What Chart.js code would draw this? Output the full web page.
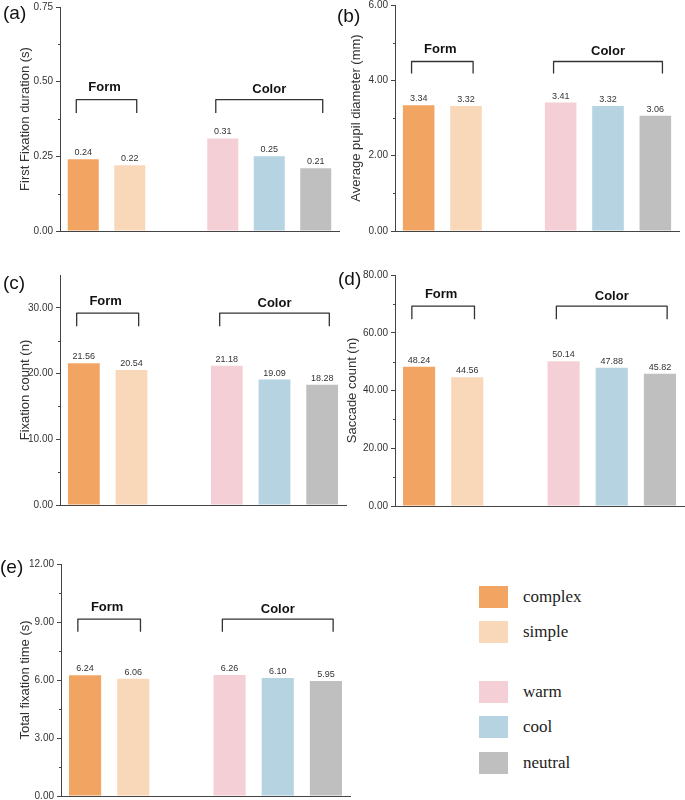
<!DOCTYPE html>
<html>
<head>
<meta charset="utf-8">
<script src="https://cdn.jsdelivr.net/npm/chart.js@4.4.1/dist/chart.umd.min.js"></script>
<style>
  body { margin: 0; background: #fff; }
  #wrap { position: relative; width: 685px; height: 800px; overflow: hidden; }
  #wrap canvas { position: absolute; }
  .key { position: absolute; left: 479px; height: 22px; font-family: "Liberation Serif", "Times New Roman", serif; font-size: 17px; color: #222; }
  .key span { position: absolute; left: 0; top: 0; width: 29px; height: 22px; }
  .key b { position: absolute; left: 44px; top: 0; line-height: 22px; font-weight: normal; white-space: nowrap; }
</style>
</head>
<body>
<div id="wrap">
  <canvas id="chartA" width="340" height="250" style="left:0;top:0"></canvas>
  <canvas id="chartB" width="350" height="250" style="left:335px;top:0"></canvas>
  <canvas id="chartC" width="350" height="255" style="left:0;top:260px"></canvas>
  <canvas id="chartD" width="350" height="255" style="left:335px;top:260px"></canvas>
  <canvas id="chartE" width="355" height="260" style="left:0;top:540px"></canvas>
  <div id="legend"></div>
</div>
<script>
// DATA
const categories = ["complex", "simple", "", "warm", "cool", "neutral"];
const barColors = ["#F2A463", "#F9D8B9", "rgba(0,0,0,0)", "#F4D0D6", "#B5D3E0", "#BFBFBF"];

const firstFixation = [0.24, 0.22, null, 0.31, 0.25, 0.21];
const pupilDiameter = [3.34, 3.32, null, 3.41, 3.32, 3.06];
const fixationCount = [21.56, 20.54, null, 21.18, 19.09, 18.28];
const saccadeCount = [48.24, 44.56, null, 50.14, 47.88, 45.82];
const totalFixation = [6.24, 6.06, null, 6.26, 6.10, 5.95];

const ticksA = [0, 0.25, 0.5, 0.75];
const ticksB = [0, 2, 4, 6];
const ticksC = [0, 10, 20, 30];
const ticksD = [0, 20, 40, 60, 80];
const ticksE = [0, 3, 6, 9, 12];

const groups = [
  { label: "Form", from: 0, to: 1 },
  { label: "Color", from: 3, to: 5 },
];

const legendItems = [
  { label: "complex", color: "#F2A463", top: 586 },
  { label: "simple", color: "#F9D8B9", top: 621 },
  { label: "warm", color: "#F4D0D6", top: 681 },
  { label: "cool", color: "#B5D3E0", top: 716 },
  { label: "neutral", color: "#BFBFBF", top: 752 },
];

const axisColor = "#444";
const textColor = "#333";
const sans = "'Liberation Sans', Arial, Helvetica, sans-serif";

const panels = [
  { canvas: "chartA", tag: "(a)", title: "First Fixation duration (s)", data: firstFixation, max: 0.75, ticks: ticksA,
    bracket: [0.44, 0.395], w: 340, h: 250, area: { left: 60, top: 7, right: 339, bottom: 231 }, tagPos: [3, 14], titleX: 25 },
  { canvas: "chartB", tag: "(b)", title: "Average pupil diameter (mm)", data: pupilDiameter, max: 6, ticks: ticksB,
    bracket: [4.5, 4.18], w: 350, h: 250, area: { left: 60, top: 5, right: 344, bottom: 231 }, tagPos: [2, 17], titleX: 21 },
  { canvas: "chartC", tag: "(c)", title: "Fixation count (n)", data: fixationCount, max: 35, ticks: ticksC,
    bracket: [29.2, 27.2], w: 350, h: 255, area: { left: 60, top: 15, right: 346, bottom: 245 }, tagPos: [3, 24], titleX: 25 },
  { canvas: "chartD", tag: "(d)", title: "Saccade count (n)", data: saccadeCount, max: 80, ticks: ticksD,
    bracket: [69.2, 64.7], w: 350, h: 255, area: { left: 60, top: 15, right: 349, bottom: 246 }, tagPos: [3, 20], titleX: 17 },
  { canvas: "chartE", tag: "(e)", title: "Total fixation time (s)", data: totalFixation, max: 12, ticks: ticksE,
    bracket: [9.15, 8.5], w: 355, h: 260, area: { left: 61, top: 24, right: 350, bottom: 256 }, tagPos: [0, 28], titleX: 25 },
];

// draws minor ticks, value labels, group brackets, axis title and panel tag
function makeExtras(p) {
  return {
    id: "extras",
    afterDatasetsDraw(chart) {
      const { ctx, chartArea } = chart;
      const x = chart.scales.x;
      const y = chart.scales.y;
      ctx.save();

      // minor ticks between the major ones
      ctx.strokeStyle = axisColor;
      ctx.lineWidth = 1;
      for (let i = 0; i < p.ticks.length - 1; i++) {
        const py = Math.round(y.getPixelForValue((p.ticks[i] + p.ticks[i + 1]) / 2)) + 0.5;
        ctx.beginPath();
        ctx.moveTo(chartArea.left - 2, py);
        ctx.lineTo(chartArea.left, py);
        ctx.stroke();
      }

      // value labels
      const meta = chart.getDatasetMeta(0);
      ctx.fillStyle = textColor;
      ctx.font = "9px " + sans;
      ctx.textAlign = "center";
      ctx.textBaseline = "bottom";
      meta.data.forEach((bar, i) => {
        const v = p.data[i];
        if (v == null) return;
        ctx.fillText(v.toFixed(2), bar.x, bar.y - 2);
      });

      // brackets
      const top = y.getPixelForValue(p.bracket[0]);
      const bottom = y.getPixelForValue(p.bracket[1]);
      ctx.strokeStyle = "#333";
      ctx.lineWidth = 1.3;
      ctx.lineJoin = "round";
      groups.forEach((g, gi) => {
        const x1 = x.getPixelForValue(g.from - 0.15);
        const x2 = x.getPixelForValue(g.to + 0.15);
        ctx.beginPath();
        ctx.moveTo(x1, bottom);
        ctx.lineTo(x1, top);
        ctx.lineTo(x2, top);
        ctx.lineTo(x2, bottom);
        ctx.stroke();
        ctx.fillStyle = "#111";
        ctx.font = "bold 13px " + sans;
        ctx.textBaseline = "middle";
        ctx.fillText(g.label, (x1 + x2) / 2 - (gi === 0 ? 2 : 0), top - (gi === 0 ? 12 : 10));
      });

      // axis title
      ctx.save();
      ctx.translate(p.titleX, (chartArea.top + chartArea.bottom) / 2);
      ctx.rotate(-Math.PI / 2);
      ctx.fillStyle = textColor;
      ctx.font = "13px " + sans;
      ctx.textAlign = "center";
      ctx.textBaseline = "middle";
      ctx.fillText(p.title, 0, 0);
      ctx.restore();

      // panel tag
      ctx.fillStyle = "#111";
      ctx.font = "19px " + sans;
      ctx.textAlign = "left";
      ctx.textBaseline = "middle";
      ctx.fillText(p.tag, p.tagPos[0], p.tagPos[1]);

      ctx.restore();
    },
  };
}

panels.forEach((p) => {
  new Chart(document.getElementById(p.canvas), {
    type: "bar",
    data: {
      labels: categories,
      datasets: [
        {
          data: p.data,
          backgroundColor: barColors,
          borderWidth: 0,
          barPercentage: 0.667,
          categoryPercentage: 1,
        },
      ],
    },
    options: {
      responsive: false,
      animation: false,
      devicePixelRatio: 1,
      layout: {
        padding: { left: 0, top: p.area.top, right: p.w - p.area.right, bottom: p.h - p.area.bottom },
      },
      plugins: {
        legend: { display: false },
        tooltip: { enabled: false },
      },
      scales: {
        x: {
          offset: true,
          grid: { display: false },
          ticks: { display: false },
          border: { display: true, color: axisColor, width: 1 },
          afterFit(s) {
            s.height = 0;
            s.paddingLeft = 0;
            s.paddingRight = 0;
          },
        },
        y: {
          min: 0,
          max: p.max,
          afterBuildTicks(s) {
            s.ticks = p.ticks.map((v) => ({ value: v }));
          },
          afterFit(s) {
            s.width = p.area.left;
            s.paddingTop = 0;
            s.paddingBottom = 0;
          },
          ticks: {
            color: textColor,
            font: { size: 10, family: sans },
            padding: 3,
            callback: (v) => Number(v).toFixed(2),
          },
          grid: { drawOnChartArea: false, drawTicks: true, tickLength: 4, color: axisColor },
          border: { display: true, color: axisColor, width: 1 },
        },
      },
    },
    plugins: [makeExtras(p)],
  });
});

// LEGEND
const legend = document.getElementById("legend");
legendItems.forEach((item) => {
  const row = document.createElement("div");
  row.className = "key";
  row.style.top = item.top + "px";
  row.innerHTML = '<span style="background:' + item.color + '"></span><b>' + item.label + "</b>";
  legend.appendChild(row);
});
</script>
</body>
</html>
